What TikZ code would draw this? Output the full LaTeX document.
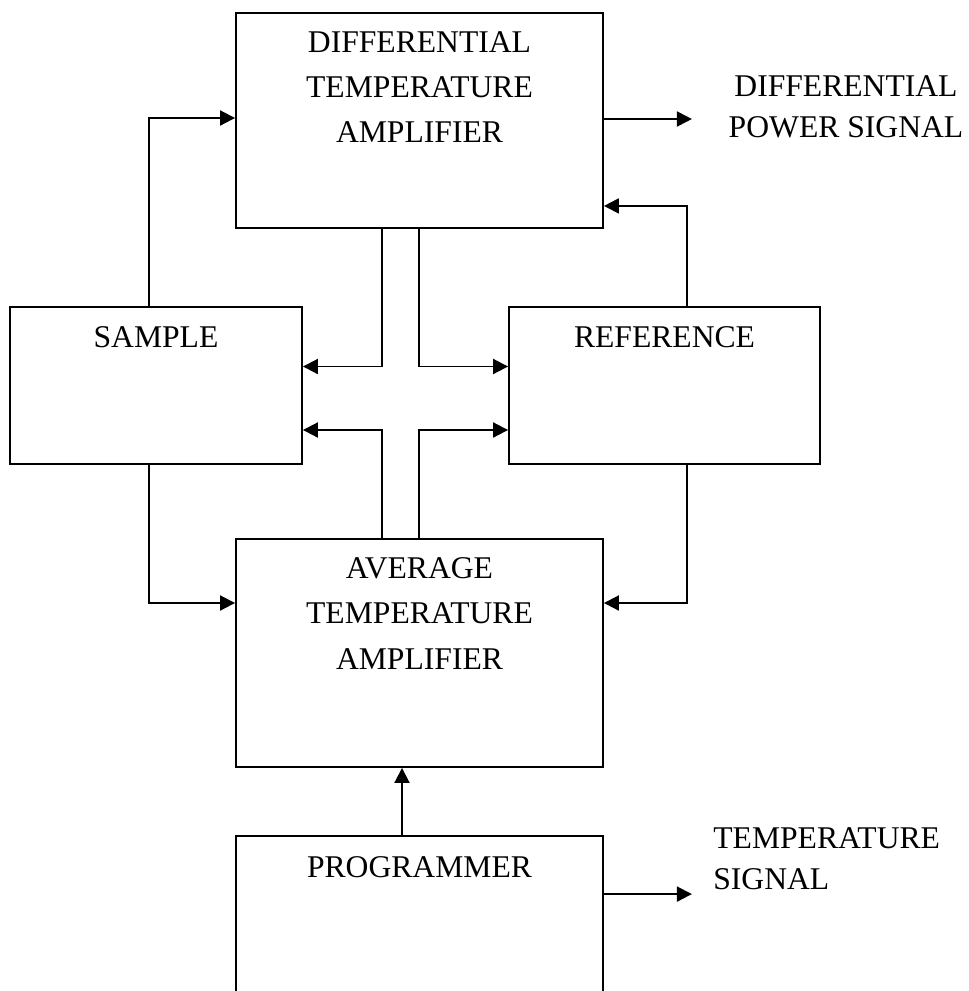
\documentclass[tikz,border=0pt]{standalone}
\usepackage{fontspec}
\setmainfont{Liberation Serif}
\usetikzlibrary{positioning}
\usetikzlibrary{calc}
\usetikzlibrary{arrows.meta}

\begin{document}
\begin{tikzpicture}[x=0.02cm, y=-0.02cm,
        block/.style={draw, line width=1.1pt, inner sep=0pt},
        txt/.style={align=center, inner sep=0pt, font=\fontsize{18}{25.8}\selectfont},
        outtxt/.style={inner sep=0pt, font=\fontsize{18}{23.2}\selectfont},
        arr/.style={-{Triangle[length=0.3cm,width=0.3cm]}, line width=1.1pt}]
            \clip (0,0) rectangle (968,991);
            % boxes
            \node[block, minimum width=7.34cm, minimum height=4.30cm] (dta) at (419.5,120.5) {};
            \node[block, minimum width=5.84cm, minimum height=3.14cm] (sam) at (156,385.5) {};
            \node[block, minimum width=6.22cm, minimum height=3.14cm] (ref) at (664.5,385.5) {};
            \node[block, minimum width=7.34cm, minimum height=4.56cm] (ata) at (419.5,653) {};
            \node[block, minimum width=7.34cm, minimum height=8cm] (prg) at (419.5,1036) {};

            \node[txt, below=0.38cm of dta.north] (dtatext) {DIFFERENTIAL\\TEMPERATURE\\AMPLIFIER};
            \node[txt, below=0.40cm of sam.north] (samtext) {SAMPLE};
            \node[txt, below=0.40cm of ref.north] (reftext) {REFERENCE};
            \node[txt, below=0.38cm of ata.north] (atatext) {AVERAGE\\TEMPERATURE\\AMPLIFIER};
            \node[txt, below=0.42cm of prg.north] (prgtext) {PROGRAMMER};

            % outputs
            \coordinate (dpout) at ($(dta.east)+(88,-1.5)$);
            \coordinate (tsout) at ($(prg.north east)+(88,59)$);
            \node[outtxt, align=center] (dplabel) at (846,107) {DIFFERENTIAL\\POWER SIGNAL};
            \node[outtxt, align=left, anchor=north west] (tslabel) at (713,827) {TEMPERATURE\\SIGNAL};
            \draw[arr] ($(dta.east)+(0,-1.5)$) -- (dpout);
            \draw[arr] ($(prg.north east)+(0,59)$) -- (tsout);

            % feedback lines
            \draw[arr] ($(sam.north)+(-7,0)$) |- ($(dta.west)+(0,-2.5)$);
            \draw[arr] ($(ref.north)+(22.5,0)$) |- ($(dta.south east)+(0,-23)$);
            \draw[arr] ($(dta.south)+(-37.5,0)$) |- ($(sam.east)+(0,-19)$);
            \draw[arr] ($(dta.south)+(-0.5,0)$) |- ($(ref.west)+(0,-19)$);
            \draw[arr] ($(ata.north)+(-37.5,0)$) |- ($(sam.east)+(0,44.5)$);
            \draw[arr] ($(ata.north)+(-0.5,0)$) |- ($(ref.west)+(0,44.5)$);
            \draw[arr] ($(sam.south)+(-7,0)$) |- ($(ata.west)+(0,-50)$);
            \draw[arr] ($(ref.south)+(22.5,0)$) |- ($(ata.east)+(0,-50)$);
            \draw[arr] ($(prg.north)+(-17.5,0)$) -- ($(ata.south)+(-17.5,0)$);
        \end{tikzpicture}
\end{document}
